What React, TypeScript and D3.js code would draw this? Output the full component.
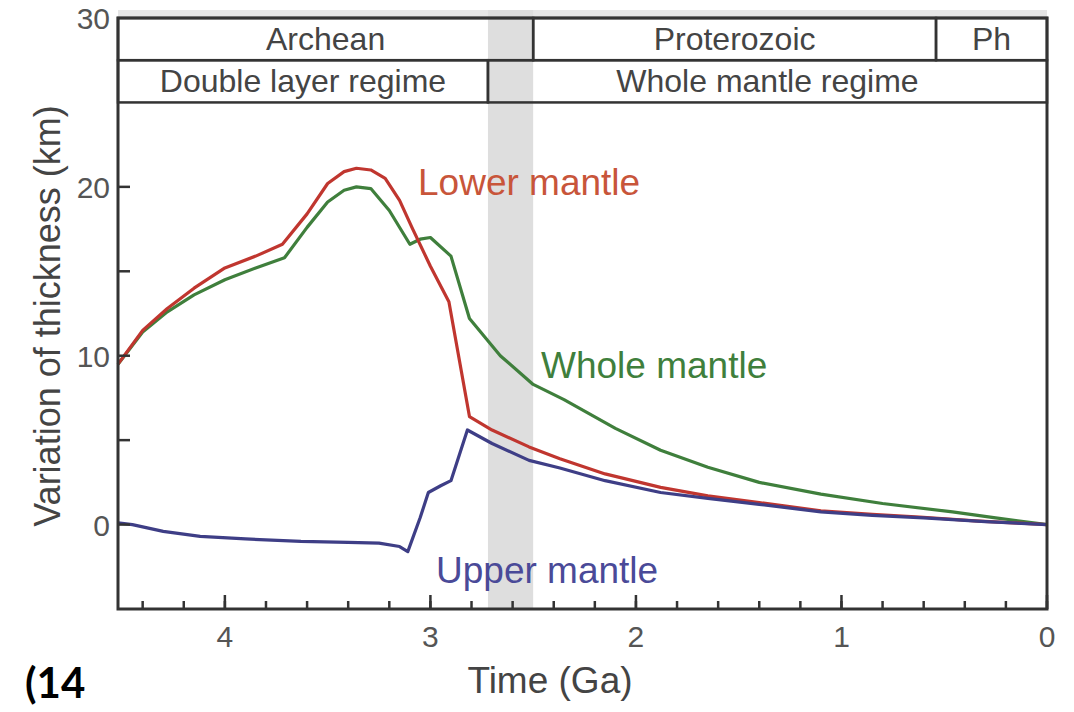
import { scaleLinear, line, range } from "d3";

const W = 1074;
const H = 712;

// time in Ga, value in km
const lowerT = [4.52, 4.4, 4.28, 4.15, 4.0, 3.85, 3.72, 3.6, 3.5, 3.42, 3.36, 3.29, 3.22, 3.15, 3.09, 3.0, 2.91, 2.81, 2.7, 2.52, 2.37, 2.15, 1.88, 1.65, 1.4, 1.1, 0.85, 0.62, 0.35, 0];
const lowerV = [9.5, 11.5, 12.8, 14.0, 15.2, 15.9, 16.6, 18.4, 20.2, 20.9, 21.1, 21.0, 20.5, 19.2, 17.6, 15.3, 13.2, 6.4, 5.6, 4.6, 3.9, 3.0, 2.2, 1.7, 1.3, 0.82, 0.6, 0.45, 0.22, 0];

const wholeT = [4.52, 4.4, 4.28, 4.15, 4.0, 3.85, 3.71, 3.6, 3.5, 3.42, 3.36, 3.29, 3.2, 3.1, 3.05, 3.0, 2.9, 2.81, 2.66, 2.5, 2.35, 2.1, 1.88, 1.65, 1.4, 1.1, 0.8, 0.46, 0.25, 0];
const wholeV = [9.5, 11.4, 12.6, 13.6, 14.5, 15.2, 15.8, 17.6, 19.1, 19.8, 20.0, 19.9, 18.6, 16.6, 16.9, 17.0, 15.9, 12.2, 10.0, 8.3, 7.4, 5.7, 4.4, 3.4, 2.5, 1.8, 1.25, 0.75, 0.4, 0];

const upperT = [4.52, 4.45, 4.3, 4.12, 3.9, 3.63, 3.4, 3.25, 3.15, 3.11, 3.05, 3.01, 2.95, 2.9, 2.82, 2.7, 2.52, 2.37, 2.15, 1.88, 1.65, 1.4, 1.1, 0.85, 0.6, 0.3, 0];
const upperV = [0.1, 0.0, -0.4, -0.7, -0.85, -1.0, -1.05, -1.1, -1.3, -1.6, 0.4, 1.9, 2.3, 2.6, 5.6, 4.8, 3.8, 3.35, 2.6, 1.9, 1.55, 1.2, 0.75, 0.55, 0.4, 0.18, 0];

const xTicks = [4, 3, 2, 1, 0];
const yTicks = [0, 10, 20, 30];
const yMinor = [0, 5, 10, 15, 20];

const eons = [
  { name: "Archean", from: 4.52, to: 2.5 },
  { name: "Proterozoic", from: 2.5, to: 0.54 },
  { name: "Ph", from: 0.54, to: 0 },
];
const regimes = [
  { name: "Double layer regime", from: 4.52, to: 2.72 },
  { name: "Whole mantle regime", from: 2.72, to: 0 },
];
const transition = [2.72, 2.5];

const FONT = "'Liberation Sans', Arial, sans-serif";
const AXIS = "#333";

const zip = (t: number[], v: number[]) => t.map((d, i) => [d, v[i]] as [number, number]);

export default function App() {
  const x = scaleLinear().domain([4.52, 0]).range([118, 1047]);
  const y = scaleLinear().domain([-5, 30]).range([609, 18]);

  const path = line<[number, number]>()
    .x((d) => x(d[0]))
    .y((d) => y(d[1]));

  const minorX = range(0, 4.52, 0.2).map((d) => +d.toFixed(1));
  const [x0, x1] = x.range();

  return (
    <svg width={W} height={H} style={{ position: "absolute", left: 0, top: 0, background: "#fff" }}>
      {/* grey strip above frame and transition band */}
      <rect x={x0} y={y(30) - 8} width={x1 - x0} height={8} fill="#e6e6e6" />
      <rect
        x={x(transition[0])}
        y={y(30) - 8}
        width={x(transition[1]) - x(transition[0])}
        height={y(-5) - y(30) + 8}
        fill="#dedede"
      />

      {/* header rows */}
      {eons.map((e) => (
        <g key={e.name}>
          <rect x={x(e.from)} y={y(30)} width={x(e.to) - x(e.from)} height={y(27.5) - y(30)} fill="none" stroke={AXIS} strokeWidth={2.5} />
          <text x={(x(e.from) + x(e.to)) / 2} y={(y(30) + y(27.5)) / 2 + 11} textAnchor="middle" fontFamily={FONT} fontSize={32} fill="#444">
            {e.name}
          </text>
        </g>
      ))}
      {regimes.map((e) => (
        <g key={e.name}>
          <rect x={x(e.from)} y={y(27.5)} width={x(e.to) - x(e.from)} height={y(25) - y(27.5)} fill="none" stroke={AXIS} strokeWidth={2.5} />
          <text x={(x(e.from) + x(e.to)) / 2} y={(y(27.5) + y(25)) / 2 + 11} textAnchor="middle" fontFamily={FONT} fontSize={32} fill="#444">
            {e.name}
          </text>
        </g>
      ))}

      {/* series */}
      <path d={path(zip(wholeT, wholeV)) ?? ""} fill="none" stroke="#3f7f3c" strokeWidth={3.2} strokeLinejoin="round" />
      <path d={path(zip(lowerT, lowerV)) ?? ""} fill="none" stroke="#c0362f" strokeWidth={3.2} strokeLinejoin="round" />
      <path d={path(zip(upperT, upperV)) ?? ""} fill="none" stroke="#3e3e86" strokeWidth={3.2} strokeLinejoin="round" />

      {/* frame */}
      <rect x={x0} y={y(30)} width={x1 - x0} height={y(-5) - y(30)} fill="none" stroke={AXIS} strokeWidth={3} />

      {/* x ticks */}
      {minorX.map((t) => (
        <line key={"mx" + t} x1={x(t)} x2={x(t)} y1={y(-5)} y2={y(-5) - 8} stroke={AXIS} strokeWidth={2.5} />
      ))}
      {xTicks.map((t) => (
        <g key={"x" + t}>
          <line x1={x(t)} x2={x(t)} y1={y(-5)} y2={y(-5) - 14} stroke={AXIS} strokeWidth={2.5} />
          <text x={x(t)} y={647} textAnchor="middle" fontFamily={FONT} fontSize={30} fill="#555">
            {t}
          </text>
        </g>
      ))}

      {/* y ticks */}
      {yMinor.map((v) => (
        <line key={"y" + v} x1={x0} x2={x0 + 12} y1={y(v)} y2={y(v)} stroke={AXIS} strokeWidth={2.5} />
      ))}
      {yTicks.map((v) => (
        <text key={"yl" + v} x={110} y={y(v) + 11} textAnchor="end" fontFamily={FONT} fontSize={30} fill="#555">
          {v}
        </text>
      ))}

      {/* series labels */}
      <text x={418} y={195} fontFamily={FONT} fontSize={37} fill="#c8553a">Lower mantle</text>
      <text x={541} y={378} fontFamily={FONT} fontSize={37} fill="#3f7f3c">Whole mantle</text>
      <text x={436} y={583} fontFamily={FONT} fontSize={37} fill="#4a4a98">Upper mantle</text>

      {/* axis titles */}
      <text x={550} y={693} textAnchor="middle" fontFamily={FONT} fontSize={37} fill="#444">Time (Ga)</text>
      <text transform="translate(60,316) rotate(-90)" textAnchor="middle" fontFamily={FONT} fontSize={36} fill="#444">
        Variation of thickness (km)
      </text>

      <text x={25} y={698} fontFamily="Lato, 'Open Sans', sans-serif" fontWeight="bold" fontSize={42} fill="#000">(14</text>
    </svg>
  );
}
